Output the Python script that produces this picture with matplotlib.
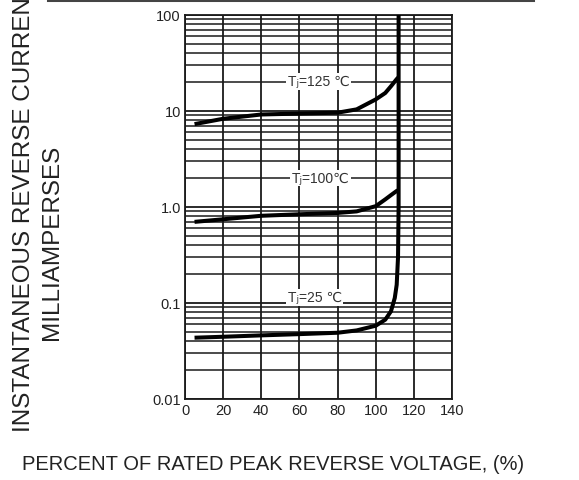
import numpy as np
import matplotlib.pyplot as plt
from matplotlib.ticker import FixedLocator, LogLocator, NullFormatter

plt.rcParams['font.family'] = ['Liberation Sans', 'DejaVu Sans', 'Noto Sans CJK SC']

# percent of rated peak reverse voltage
v_125 = [5, 20, 40, 60, 80, 90, 100, 105, 108, 111, 112]
i_125 = [7.3, 8.3, 9.2, 9.4, 9.6, 10.4, 13.2, 15.4, 18.1, 21.5, 22.5]

v_100 = [5, 20, 40, 60, 80, 90, 100, 105, 108, 111, 112]
i_100 = [0.70, 0.745, 0.81, 0.84, 0.867, 0.90, 1.02, 1.20, 1.33, 1.47, 1.5]

v_25 = [5, 20, 40, 60, 80, 90, 100, 105, 108, 110, 111, 111.7, 112, 112]
i_25 = [0.0435, 0.0445, 0.046, 0.0474, 0.049, 0.0518, 0.058, 0.067, 0.082, 0.113, 0.155, 0.3, 1.0, 100]

labels = ['T\u2c7c=125 \u2103', 'T\u2c7c=100\u2103', 'T\u2c7c=25 \u2103']
label_x = [70, 71, 68]
label_y = [20.3, 2.0, 0.115]

xticks = [0, 20, 40, 60, 80, 100, 120, 140]
yticks = [0.01, 0.1, 1, 10, 100]
ytick_labels = ['0.01', '0.1', '1.0', '10', '100']

fig = plt.figure(figsize=(5.79, 4.81), dpi=100)
ax = fig.add_axes([185/579, 1 - 400/481, 267/579, 384/481])

gc = '#1a1a1a'
for vv, ii in [(v_125, i_125), (v_100, i_100), (v_25, i_25)]:
	ax.plot(vv, ii, color='black', lw=2.9, solid_capstyle='butt', zorder=3)

ax.set_yscale('log')
ax.set_xlim(0, 140)
ax.set_ylim(0.01, 100)
ax.xaxis.set_major_locator(FixedLocator(xticks))
ax.yaxis.set_major_locator(FixedLocator(yticks))
ax.set_yticklabels(ytick_labels)
ax.yaxis.set_minor_locator(LogLocator(base=10, subs=np.arange(2, 10)))
ax.yaxis.set_minor_formatter(NullFormatter())
ax.grid(True, which='major', axis='both', color=gc, lw=1.3)
ax.grid(True, which='minor', axis='y', color=gc, lw=1.1)
ax.set_axisbelow(True)
ax.tick_params(which='both', length=0, labelsize=10.5, colors='#222222')
ax.tick_params(axis='x', pad=3)
ax.tick_params(axis='y', pad=3)
for s in ax.spines.values():
	s.set_color(gc)
	s.set_linewidth(1.3)

for txt, tx, ty in zip(labels, label_x, label_y):
	ax.text(tx, ty, txt, fontsize=10, color='#333333', ha='center', va='center',
			bbox=dict(facecolor='white', edgecolor='none', pad=1.0), zorder=4)

# axis titles
fig.text(24.5/579, 1 - 432/481, 'INSTANTANEOUS REVERSE CURRENT,', rotation=90,
		 ha='center', va='bottom', fontsize=17.5, color='#222222')
fig.text(52/579, 1 - 242/481, 'MILLIAMPERSES', rotation=90,
		 ha='center', va='center', fontsize=17.5, color='#222222')
fig.text(273/579, 1 - 464/481, 'PERCENT OF RATED PEAK REVERSE VOLTAGE, (%)',
		 ha='center', va='center', fontsize=14.5, color='#222222')

# dark rule at the very top
fig.add_artist(plt.Line2D([48/579, 533/579], [1 - 1.2/481, 1 - 1.2/481],
						  transform=fig.transFigure, color='#444444', lw=2.2))

fig.savefig('out.png', dpi=100)
